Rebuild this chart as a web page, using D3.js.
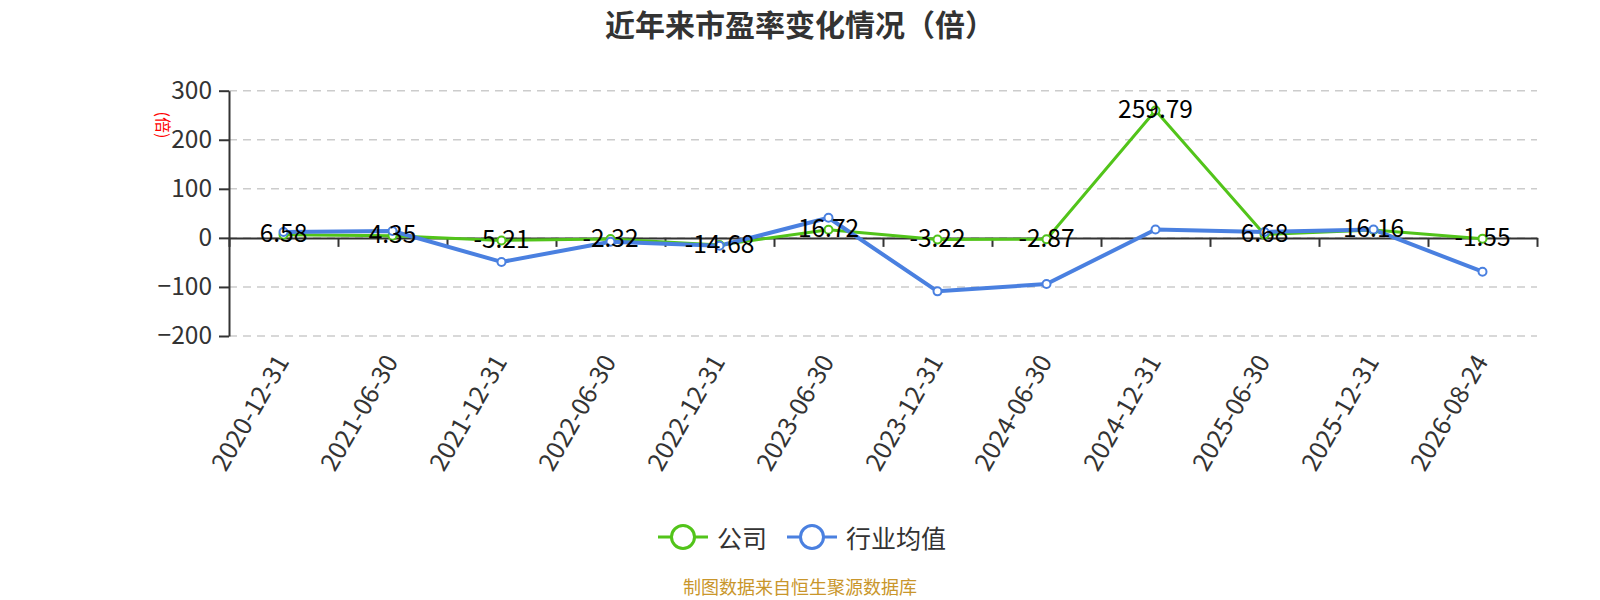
<!DOCTYPE html>
<html>
<head>
<meta charset="utf-8">
<script src="https://cdn.jsdelivr.net/npm/d3@7.9.0/dist/d3.min.js"></script>
<style>
  html, body { margin: 0; padding: 0; background: #fff; }
  svg { display: block; font-family: "Noto Sans CJK SC", "Noto Sans", sans-serif; }
</style>
</head>
<body>
<div id="chart"></div>
<script>
// data
const dates = ["2020-12-31", "2021-06-30", "2021-12-31", "2022-06-30", "2022-12-31", "2023-06-30",
               "2023-12-31", "2024-06-30", "2024-12-31", "2025-06-30", "2025-12-31", "2026-08-24"];
const company  = [6.58, 4.35, -5.21, -2.32, -14.68, 16.72, -3.22, -2.87, 259.79, 6.68, 16.16, -1.55];
const industry = [12, 14, -49, -8, -16, 41, -109, -94, 17, 12, 17, -69];
const yTicks = [-200, -100, 0, 100, 200, 300];
const seriesNames = ["公司", "行业均值"];
const seriesColors = ["#52c41a", "#4a80e0"];

const W = 1600, H = 600;
const plotLeft = 229, plotRight = 1537, plotTop = 90.7, plotBottom = 336;

const svg = d3.select("#chart").append("svg")
  .attr("width", W)
  .attr("height", H);

// scales
const x = d3.scaleBand().domain(dates).range([plotLeft, plotRight]).padding(0);
const cx = d => x(d) + x.bandwidth() / 2;
const y = d3.scaleLinear().domain([-200, 300]).range([plotBottom, plotTop]);
const xTickScale = d3.scaleLinear().domain([0, dates.length]).range([plotLeft, plotRight]);

// title
svg.append("text")
  .attr("x", W / 2)
  .attr("y", 23)
  .attr("text-anchor", "middle")
  .attr("dominant-baseline", "central")
  .style("font-size", "30px")
  .style("font-weight", "bold")
  .style("fill", "#333")
  .text("近年来市盈率变化情况（倍）");

// grid
svg.append("g")
  .selectAll("line")
  .data(yTicks)
  .join("line")
    .attr("x1", plotLeft)
    .attr("x2", plotRight)
    .attr("y1", d => y(d))
    .attr("y2", d => y(d))
    .attr("stroke", "#ccc")
    .attr("stroke-width", 1.5)
    .attr("stroke-dasharray", "8,6");

// y axis
const yAxis = svg.append("g")
  .attr("transform", `translate(${plotLeft},0)`)
  .call(d3.axisLeft(y).tickValues(yTicks).tickSize(10).tickSizeOuter(0).tickPadding(7));
yAxis.select(".domain").attr("stroke", "#333").attr("stroke-width", 2);
yAxis.selectAll(".tick line").attr("stroke", "#333").attr("stroke-width", 2);
yAxis.selectAll(".tick text")
  .style("font-size", "24.5px")
  .style("fill", "#333")
  .style("font-family", "'Noto Sans CJK SC', 'Noto Sans', sans-serif");

// y axis name
svg.append("text")
  .attr("transform", `translate(164,125) rotate(90)`)
  .attr("text-anchor", "middle")
  .attr("dominant-baseline", "central")
  .style("font-size", "16px")
  .style("fill", "red")
  .text("(倍)");

// x axis on zero line
const xAxis = svg.append("g")
  .attr("transform", `translate(0,${y(0)})`)
  .call(d3.axisBottom(xTickScale).tickValues(d3.range(dates.length + 1)).tickFormat("").tickSize(9).tickSizeOuter(0));
xAxis.select(".domain").attr("stroke", "#333").attr("stroke-width", 2);
xAxis.selectAll(".tick line").attr("stroke", "#333").attr("stroke-width", 2);

// x labels at the bottom
svg.append("g")
  .selectAll("text")
  .data(dates)
  .join("text")
    .attr("transform", d => `translate(${cx(d) - 3},${plotBottom + 20}) rotate(-60)`)
    .attr("text-anchor", "end")
    .attr("dominant-baseline", "central")
    .style("font-size", "25px")
    .style("fill", "#333")
    .text(d => d);

// lines
const series = [company, industry];
const line = d3.line()
  .x((v, i) => cx(dates[i]))
  .y(v => y(v));

series.forEach((vals, s) => {
  svg.append("path")
    .datum(vals)
    .attr("d", line)
    .attr("fill", "none")
    .attr("stroke", seriesColors[s])
    .attr("stroke-width", s === 0 ? 3 : 4)
    .attr("stroke-linejoin", "round");
});

series.forEach((vals, s) => {
  svg.append("g")
    .selectAll("circle")
    .data(vals)
    .join("circle")
      .attr("cx", (v, i) => cx(dates[i]))
      .attr("cy", v => y(v))
      .attr("r", 4)
      .attr("fill", "#fff")
      .attr("stroke", seriesColors[s])
      .attr("stroke-width", 2);
});

// company labels
svg.append("g")
  .selectAll("text")
  .data(company)
  .join("text")
    .attr("x", (v, i) => cx(dates[i]))
    .attr("y", v => y(v) - 3)
    .attr("text-anchor", "middle")
    .attr("dominant-baseline", "central")
    .style("font-size", "24.5px")
    .style("fill", "#000")
    .text(v => v.toFixed(2));

// legend
const legendX = [658, 787];
const legend = svg.append("g")
  .selectAll("g")
  .data(seriesNames)
  .join("g")
    .attr("transform", (d, i) => `translate(${legendX[i]},537)`);

legend.append("line")
  .attr("x1", 0).attr("x2", 50)
  .attr("stroke", (d, i) => seriesColors[i])
  .attr("stroke-width", 3);

legend.append("circle")
  .attr("cx", 25)
  .attr("r", 11.5)
  .attr("fill", "#fff")
  .attr("stroke", (d, i) => seriesColors[i])
  .attr("stroke-width", 3);

legend.append("text")
  .attr("x", 59)
  .attr("dominant-baseline", "central")
  .style("font-size", "25px")
  .style("fill", "#333")
  .text(d => d);

// footer
svg.append("text")
  .attr("x", W / 2)
  .attr("y", 586)
  .attr("text-anchor", "middle")
  .attr("dominant-baseline", "central")
  .style("font-size", "18px")
  .style("fill", "#c9962b")
  .text("制图数据来自恒生聚源数据库");
</script>
</body>
</html>
